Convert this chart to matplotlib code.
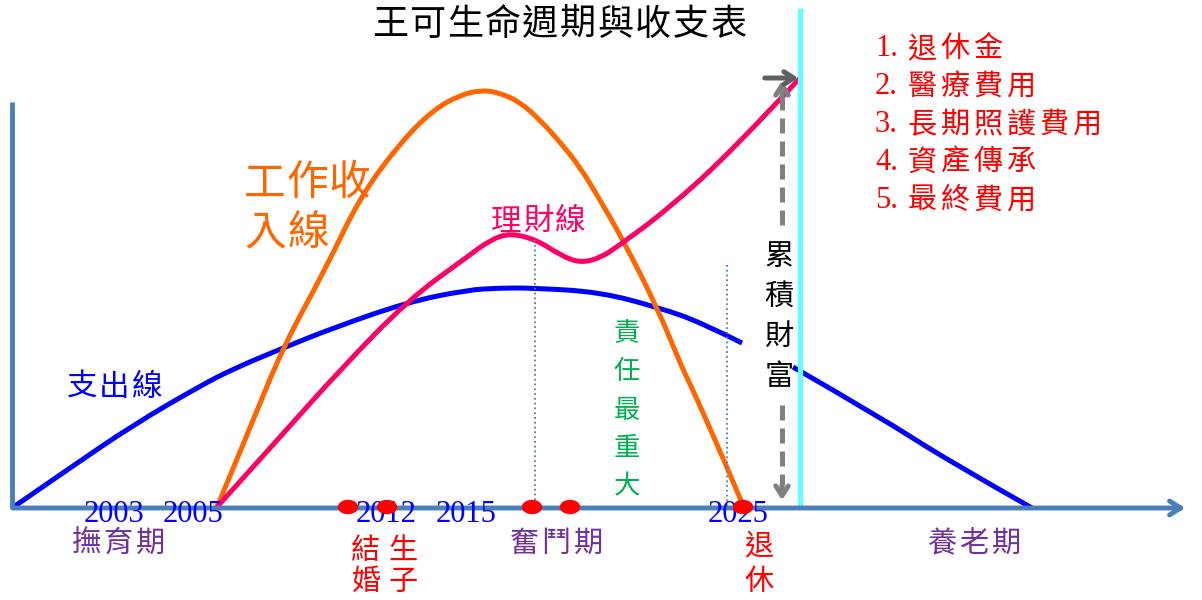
import matplotlib.pyplot as plt
from matplotlib.patches import Ellipse, PathPatch
from matplotlib.path import Path

plt.rcParams['font.family'] = ['Noto Sans CJK TC', 'DejaVu Sans']

# ---- data (pixel space of the original slide, y grows downward) ----
expense_left_x = [12, 67, 133, 200, 233, 283, 333, 408, 467, 500, 533, 600, 660, 700, 742]
expense_left_y = [508, 470, 425, 386, 369, 348, 328, 302, 290, 288, 288, 292, 308, 322, 343]
expense_right_x = [793, 880, 947, 1032]
expense_right_y = [367, 417, 460, 508]

income_x = [217, 250, 283, 325, 360, 400, 433, 460, 482, 500, 520, 540, 560, 580, 600,
            623, 657, 683, 693, 727, 742]
income_y = [507, 428, 347, 270, 197, 143, 110, 95, 90, 93, 102, 120, 142, 167, 200,
            240, 307, 370, 390, 467, 503]

wealth_x = [217, 280, 340, 408, 467, 490, 510, 537, 560, 580, 600, 617, 667, 733, 800]
wealth_y = [507, 437, 370, 300, 257, 240, 233, 240, 255, 263, 258, 247, 210, 150, 78]

event_x = [348, 387, 532, 570, 743]
years = ['2003', '2005', '2012', '2015', '2025']
year_x = [114, 193, 386, 466, 738]

periods = ['撫育期', '奮鬥期', '養老期']
period_x = [86, 524, 942]

retire_items = ['退休金', '醫療費用', '長期照護費用', '資產傳承', '最終費用']

title = '王可生命週期與收支表'

AXIS_C = '#4a7ebb'
BLUE = '#0000ff'
ORANGE = '#ff6600'
PINK = '#ff0066'
RED = '#ff0000'
PURPLE = '#7030a0'
GREEN = '#00b050'
GRAY = '#808080'


def spaced(ax, x, y, s, step, vertical=False, **kw):
    for i, ch in enumerate(s):
        if vertical:
            ax.text(x, y + i * step, ch, ha='center', va='center', **kw)
        else:
            ax.text(x + i * step, y, ch, ha='center', va='center', **kw)


def smooth_curve(ax, xs, ys, **kw):
    # quadratic bezier chain: read points act as control points
    pts = list(zip(xs, ys))
    verts = [pts[0]]
    codes = [Path.MOVETO]
    for i in range(1, len(pts) - 1):
        mid = ((pts[i][0] + pts[i + 1][0]) / 2, (pts[i][1] + pts[i + 1][1]) / 2)
        if i == len(pts) - 2:
            mid = pts[-1]
        verts += [pts[i], mid]
        codes += [Path.CURVE3, Path.CURVE3]
    ax.add_patch(PathPatch(Path(verts, codes), fill=False, **kw))


fig = plt.figure(figsize=(12.02, 6), dpi=100)
ax = fig.add_axes([0, 0, 1, 1])
ax.set_xlim(0, 1202)
ax.set_ylim(600, 0)
ax.axis('off')

# axes of the diagram
ax.plot([12, 12], [102, 508], color=AXIS_C, lw=3.5, solid_capstyle='butt')
ax.annotate('', xy=(1188, 508), xytext=(10, 508),
            arrowprops=dict(arrowstyle='->,head_length=0.8,head_width=0.5',
                            color=AXIS_C, lw=3.5))

# dotted guides
ax.plot([535, 535], [240, 507], color=AXIS_C, lw=1.3, ls=':')
ax.plot([727, 727], [265, 507], color=AXIS_C, lw=1.3, ls=':')

# cyan retirement line
ax.plot([800, 800], [8, 508], color='#66ffff', lw=3.8, solid_capstyle='butt')

# curves
smooth_curve(ax, expense_left_x, expense_left_y, edgecolor=BLUE, lw=3.6, capstyle='butt')
smooth_curve(ax, expense_right_x, expense_right_y, edgecolor=BLUE, lw=3.6, capstyle='butt')
smooth_curve(ax, income_x, income_y, edgecolor=ORANGE, lw=3.6)
smooth_curve(ax, wealth_x, wealth_y, edgecolor=PINK, lw=3.6)

# accumulated wealth arrows
ax.plot([782, 782], [225, 98], color=GRAY, lw=3.6, ls=(0, (3, 1.6)))
ax.annotate('', xy=(782, 78), xytext=(782, 100),
            arrowprops=dict(arrowstyle='->,head_length=0.7,head_width=0.45',
                            color=GRAY, lw=3.6))
ax.plot([782, 782], [405, 485], color=GRAY, lw=3.6, ls=(0, (3, 1.6)))
ax.annotate('', xy=(782, 503), xytext=(782, 482),
            arrowprops=dict(arrowstyle='->,head_length=0.7,head_width=0.45',
                            color=GRAY, lw=3.6))
ax.annotate('', xy=(801, 78), xytext=(762, 78),
            arrowprops=dict(arrowstyle='->,head_length=0.7,head_width=0.45',
                            color='#606060', lw=3.6))

# event dots
for ex in event_x:
    ax.add_patch(Ellipse((ex, 507), 19, 13, color=RED, zorder=5))

# year labels
for yx, yr in zip(year_x, years):
    ax.text(yx, 514, yr, ha='center', va='center', color=BLUE,
            fontsize=22, family='Liberation Serif')

# texts
spaced(ax, 390, 25, title, 37.6, fontsize=26, color='black')
for i, item in enumerate(retire_items):
    ly = 49 + i * 37.8
    ax.text(875, ly, f'{i + 1}.', ha='left', va='center', color=RED,
            fontsize=22, family='Liberation Serif')
    spaced(ax, 922, ly, item, 33, fontsize=21, color=RED)

spaced(ax, 265, 184, '工作收', 42, fontsize=30, color=ORANGE)
spaced(ax, 265, 233, '入線', 43, fontsize=30, color=ORANGE)
spaced(ax, 506, 222, '理財線', 32, fontsize=22, color=PINK)
spaced(ax, 82, 387, '支出線', 32.5, fontsize=22, color=BLUE)
spaced(ax, 627, 333, '責任最重大', 38.5, vertical=True, fontsize=19, color=GREEN)
spaced(ax, 779, 257, '累積財富', 40, vertical=True, fontsize=21, color='black')

for px, p in zip(period_x, periods):
    spaced(ax, px, 544, p, 32, fontsize=21, color=PURPLE)

spaced(ax, 366, 551, '結婚', 31, vertical=True, fontsize=21, color=RED)
spaced(ax, 403, 551, '生子', 31, vertical=True, fontsize=21, color=RED)
spaced(ax, 759, 546, '退休', 36, vertical=True, fontsize=21, color=RED)

fig.savefig('out.png', dpi=100)
